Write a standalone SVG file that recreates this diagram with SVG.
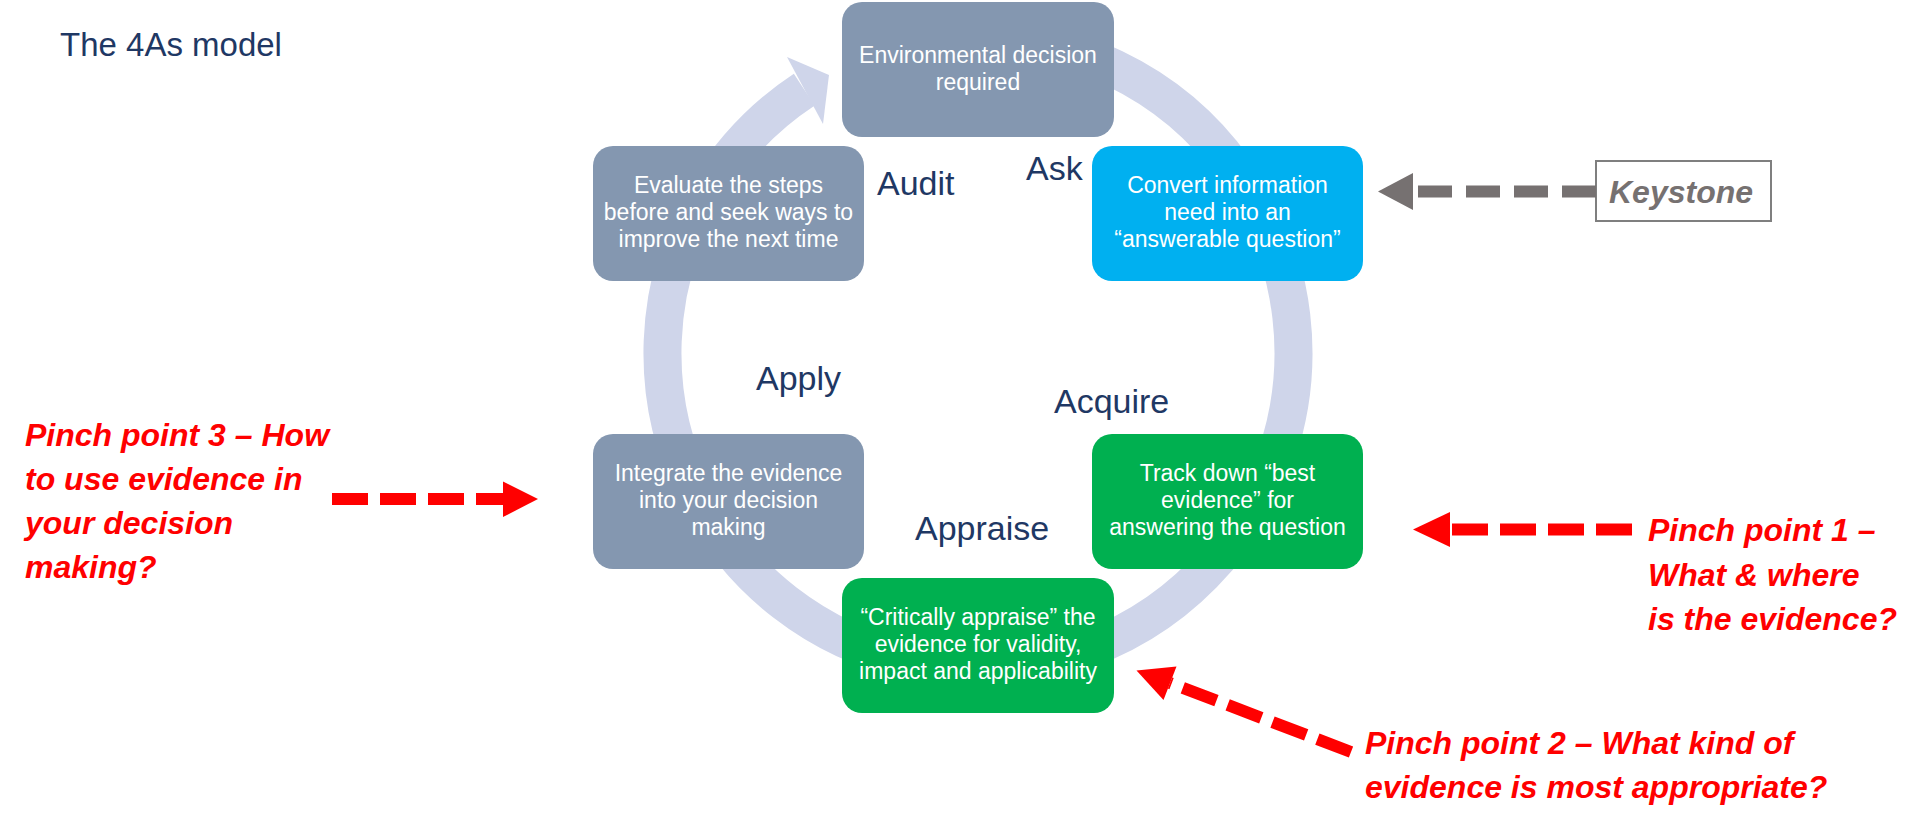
<svg xmlns="http://www.w3.org/2000/svg" width="1920" height="832" viewBox="0 0 1920 832">
<style>
.box{stroke:none}
.gray{fill:#8497B0}
.cyan{fill:#00B0F0}
.green{fill:#00B050}
.bt{font-family:"Liberation Sans",Arial,sans-serif;font-size:23px;fill:#FFFFFF;text-anchor:middle}
.lbl{font-family:"Liberation Sans",Arial,sans-serif;font-size:34px;fill:#1F3864}
.pin{font-family:"Liberation Sans",Arial,sans-serif;font-size:32px;font-weight:bold;font-style:italic;fill:#FF0000}
.reddash{stroke:#FF0000;stroke-width:12;fill:none;stroke-dasharray:36 12}
.graydash{stroke:#767171;stroke-width:12;fill:none;stroke-dasharray:34 14}
</style>
<rect width="1920" height="832" fill="#FFFFFF"/>
<text x="60" y="56" font-family="'Liberation Sans',Arial,sans-serif" font-size="33" fill="#1F3864">The 4As model</text>
<g id="cycle">
<path d="M978 37.5 A315.5 315.5 0 1 1 804.3 89.6" fill="none" stroke="#CFD5EA" stroke-width="38"/>
<polygon points="787,57 829,75 823,124" fill="#CFD5EA"/>
</g>
<g id="node-environmental">
<rect class="box gray" x="842" y="2" width="272" height="135" rx="20"/>
<text class="bt" x="978" y="63">Environmental decision</text>
<text class="bt" x="978" y="90">required</text>
</g>
<g id="node-ask">
<rect class="box cyan" x="1092" y="146" width="271" height="135" rx="20"/>
<text class="bt" x="1227.5" y="193">Convert information</text>
<text class="bt" x="1227.5" y="220">need into an</text>
<text class="bt" x="1227.5" y="247">“answerable question”</text>
</g>
<g id="node-acquire">
<rect class="box green" x="1092" y="434" width="271" height="135" rx="20"/>
<text class="bt" x="1227.5" y="481">Track down “best</text>
<text class="bt" x="1227.5" y="508">evidence” for</text>
<text class="bt" x="1227.5" y="535">answering the question</text>
</g>
<g id="node-appraise">
<rect class="box green" x="842" y="578" width="272" height="135" rx="20"/>
<text class="bt" x="978" y="625">“Critically appraise” the</text>
<text class="bt" x="978" y="652">evidence for validity,</text>
<text class="bt" x="978" y="679">impact and applicability</text>
</g>
<g id="node-apply">
<rect class="box gray" x="593" y="434" width="271" height="135" rx="20"/>
<text class="bt" x="728.5" y="481">Integrate the evidence</text>
<text class="bt" x="728.5" y="508">into your decision</text>
<text class="bt" x="728.5" y="535">making</text>
</g>
<g id="node-audit">
<rect class="box gray" x="593" y="146" width="271" height="135" rx="20"/>
<text class="bt" x="728.5" y="193">Evaluate the steps</text>
<text class="bt" x="728.5" y="220">before and seek ways to</text>
<text class="bt" x="728.5" y="247">improve the next time</text>
</g>
<g id="stage-labels">
<text class="lbl" x="877" y="195">Audit</text>
<text class="lbl" x="1026" y="180">Ask</text>
<text class="lbl" x="756" y="390">Apply</text>
<text class="lbl" x="1054" y="413">Acquire</text>
<text class="lbl" x="915" y="540">Appraise</text>
</g>
<g id="node-keystone">
<rect x="1596" y="161" width="175" height="60" fill="#FFFFFF" stroke="#7F7F7F" stroke-width="2"/>
<text x="1609" y="203" font-family="'Liberation Sans',Arial,sans-serif" font-size="32" font-weight="bold" font-style="italic" fill="#767171">Keystone</text>
</g>
<g id="pinch-3">
<text class="pin" x="25" y="446">Pinch point 3 – How</text>
<text class="pin" x="25" y="490">to use evidence in</text>
<text class="pin" x="25" y="534">your decision</text>
<text class="pin" x="25" y="578">making?</text>
</g>
<g id="pinch-1">
<text class="pin" x="1648" y="541">Pinch point 1 –</text>
<text class="pin" x="1648" y="586">What &amp; where</text>
<text class="pin" x="1648" y="630">is the evidence?</text>
</g>
<g id="pinch-2">
<text class="pin" x="1365" y="754">Pinch point 2 – What kind of</text>
<text class="pin" x="1365" y="798">evidence is most appropriate?</text>
</g>
<g id="connectors">
<path class="graydash" d="M1596 191.5 H1413"/>
<polygon points="1413,173 1378,191.5 1413,210" fill="#767171"/>
<path class="reddash" d="M332 499 H504"/>
<polygon points="503,481.5 538,499 503,517" fill="#FF0000"/>
<path class="reddash" d="M1632 529.5 H1449"/>
<polygon points="1450,512 1413,529.5 1450,547" fill="#FF0000"/>
<path class="reddash" d="M1351 752 L1170 683"/>
<polygon points="1136.5,670.5 1176.5,666.5 1163.5,700" fill="#FF0000"/>
</g>
</svg>
